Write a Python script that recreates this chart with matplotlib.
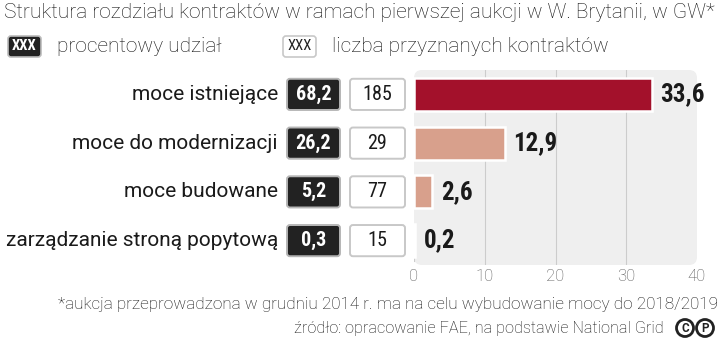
import matplotlib.pyplot as plt
import matplotlib.transforms as mtrans
import matplotlib.patheffects as pe
from matplotlib.patches import FancyBboxPatch, Circle
import numpy as np

# dane: aukcja mocy w W. Brytanii (GW)
kategorie = ['moce istniejące', 'moce do modernizacji', 'moce budowane', 'zarządzanie stroną popytową']
moc_gw = [33.6, 12.9, 2.6, 0.2]
udzial_proc = [68.2, 26.2, 5.2, 0.3]
liczba_kontraktow = [185, 29, 77, 15]
kolory = ['#a3112b', '#d8a08c', '#d8a08c', '#d8a08c']
xticks = [0, 10, 20, 30, 40]

tytul = 'Struktura rozdziału kontraktów w ramach pierwszej aukcji w W. Brytanii, w GW*'
przypis = '*aukcja przeprowadzona w grudniu 2014 r. ma na celu wybudowanie mocy do 2018/2019'
zrodlo = 'źródło: opracowanie FAE, na podstawie National Grid'

def pl(x):
    return str(x).replace('.', ',')

plt.rcParams['font.family'] = ['Roboto', 'DejaVu Sans']
COND = ['Roboto Condensed', 'Roboto', 'DejaVu Sans']

fig = plt.figure(figsize=(7.2, 3.43), dpi=100)
fig.patch.set_facecolor('white')

# warstwa w pikselach na teksty i ramki
over = fig.add_axes([0, 0, 1, 1])
over.set_xlim(0, 720)
over.set_ylim(343, 0)
over.axis('off')

over.text(4, 13, tytul, fontsize=15, fontweight='light', color='#111111', va='center', ha='left')

# legenda
over.add_patch(FancyBboxPatch((8, 36), 33, 21, boxstyle='round,pad=0,rounding_size=3',
                              fc='#222222', ec='#bbbbbb', lw=1.2))
over.text(24.5, 46.5, 'XXX', color='white', fontsize=10.5, ha='center', va='center',
          fontweight='bold', family=COND)
over.text(57, 46, 'procentowy udział', fontsize=15, fontweight='light', color='#111111', va='center')
over.add_patch(FancyBboxPatch((283, 36), 33, 21, boxstyle='round,pad=0,rounding_size=3',
                              fc='white', ec='#c8c8c8', lw=1.2))
over.text(299.5, 46.5, 'XXX', color='#222222', fontsize=10.5, ha='center', va='center', family=COND)
over.text(332, 46, 'liczba przyznanych kontraktów', fontsize=15, fontweight='light', color='#111111', va='center')

# tlo wykresu
over.add_patch(FancyBboxPatch((414, 70), 283, 195, boxstyle='round,pad=0,rounding_size=8',
                              fc='#efefef', ec='none'))

over.text(718, 305, przypis, fontsize=12.3, fontweight='light', color='#111111', ha='right', va='center')
over.text(664, 328, zrodlo, fontsize=11.7, fontweight='light', color='#111111', ha='right', va='center')
for cx, ch in [(685, 'C'), (705, 'P')]:
    over.add_patch(Circle((cx, 328), 8.5, fc='white', ec='#222222', lw=2))
    over.text(cx, 328.5, ch, fontsize=8.5, fontweight='bold', ha='center', va='center', color='#222222')

# wykres slupkowy
ax = fig.add_axes([414 / 720, 78 / 343, 283 / 720, 195 / 343])
ax.set_zorder(2)
ax.patch.set_alpha(0)
y = np.arange(len(kategorie))
bars = ax.barh(y, moc_gw, height=0.68, color=kolory, edgecolor='white', linewidth=1.8)
for b in bars:
    b.set_path_effects([pe.SimplePatchShadow(offset=(0.6, -0.6), shadow_rgbFace='#999999', alpha=0.5), pe.Normal()])
ax.set_xlim(0, 40)
ax.set_ylim(len(kategorie) - 0.5, -0.5)
ax.set_xticks(xticks)
ax.set_xticklabels([str(t) for t in xticks], fontsize=12, fontweight='light', color='#555555')
ax.set_yticks([])
ax.tick_params(axis='x', length=0, pad=3)
for s in ax.spines.values():
    s.set_visible(False)
for t in xticks[1:-1]:
    ax.axvline(t, color='#cccccc', lw=0.8, zorder=0)
ax.axvline(0, ymin=0.02, ymax=0.2, color='#cccccc', lw=0.8, zorder=0)

for yi, v in zip(y, moc_gw):
    ax.annotate(pl(v), (v, yi), xytext=(6, 0), textcoords='offset points',
                fontsize=18, fontweight='bold', color='#1a1a1a', va='center', ha='left', family=COND)

# ramki z udzialem i liczba kontraktow
tr = mtrans.blended_transform_factory(over.transData, ax.transData)
for yi, kat, u, n in zip(y, kategorie, udzial_proc, liczba_kontraktow):
    ax.text(278, yi, kat, transform=tr, ha='right', va='center', fontsize=15,
            color='#1a1a1a', clip_on=False)
    ax.add_patch(FancyBboxPatch((287, yi - 0.32), 53, 0.64, boxstyle='round,pad=0,rounding_size=3',
                                transform=tr, fc='#222222', ec='#b5b5b5', lw=1.4, clip_on=False,
                                mutation_aspect=0.02))
    ax.text(313.5, yi, pl(u), transform=tr, ha='center', va='center', fontsize=14.5,
            fontweight='bold', color='white', clip_on=False, family=COND)
    ax.add_patch(FancyBboxPatch((350, yi - 0.32), 55, 0.64, boxstyle='round,pad=0,rounding_size=3',
                                transform=tr, fc='white', ec='#c8c8c8', lw=1.4, clip_on=False,
                                mutation_aspect=0.02))
    ax.text(377.5, yi, str(n), transform=tr, ha='center', va='center', fontsize=14.5,
            color='#1a1a1a', clip_on=False, family=COND)

fig.savefig('out.png', dpi=100)
